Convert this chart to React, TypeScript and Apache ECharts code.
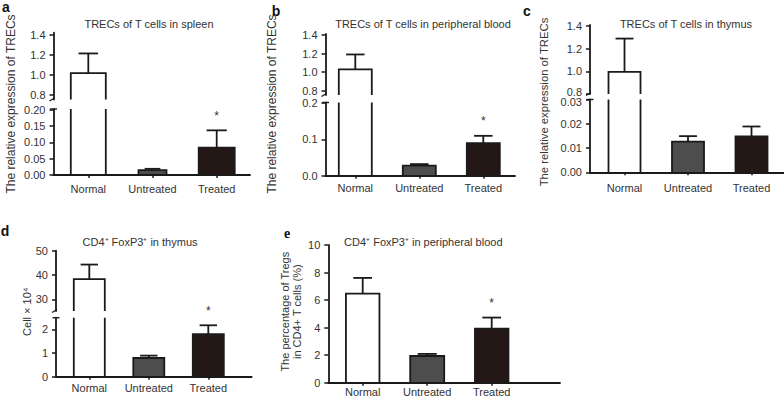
import React, { useEffect, useRef } from 'react';
import * as echarts from 'echarts';

// ---------- data ----------
const categories = ['Normal', 'Untreated', 'Treated'];

const spleenMean = [1.02, 0.0152, 0.084];
const spleenSem = [0.197, 0.0038, 0.053];
const spleenSig = ['', '', '*'];

const bloodMean = [1.03, 0.0276, 0.0895];
const bloodSem = [0.16, 0.0044, 0.0205];
const bloodSig = ['', '', '*'];

const thymusMean = [0.995, 0.0127, 0.0149];
const thymusSem = [0.295, 0.0023, 0.0041];
const thymusSig = ['', '', ''];

const cd4ThymusMean = [38.3, 0.79, 1.8];
const cd4ThymusSem = [6.0, 0.1, 0.37];
const cd4ThymusSig = ['', '', '*'];

const cd4BloodMean = [6.47, 1.94, 3.93];
const cd4BloodSem = [1.14, 0.15, 0.8];
const cd4BloodSig = ['', '', '*'];

const ticksTrecUpper = [0.8, 1.0, 1.2, 1.4];
const ticksSpleenLower = [0, 0.05, 0.1, 0.15, 0.2];
const ticksBloodLower = [0, 0.1, 0.2];
const ticksThymusLower = [0, 0.01, 0.02, 0.03];
const ticksCd4ThymusUpper = [30, 40, 50];
const ticksCd4ThymusLower = [0, 1, 2];
const ticksCd4Blood = [0, 2, 4, 6, 8, 10];

// ---------- styles ----------
const FONT = '"Liberation Sans", Arial, sans-serif';
const AXIS = '#1a1a1a';
const TEXT = '#333333';
const FILLS = ['#ffffff', '#4d4d4d', '#231815'];
const LW = 1.8;

type Segment = {
  top: number; bottom: number; min: number; max: number; ticks: number[]; dec: number;
  edgeShift?: 'up' | 'down';
};
type Panel = {
  letter: string; letterX: number; letterY: number; letterFont: string;
  title: string; titleX: number; titleY: number;
  yName: string; yNameX: number; yNameY: number; yNameSize: number;
  mean: number[]; sem: number[]; sig: string[];
  axisX: number; xRight: number; c0: number; sp: number; barW: number[]; xLabelMargin: number;
  segments: Segment[];
};

const panels: Panel[] = [
  {
    letter: 'a', letterX: 6, letterY: 7, letterFont: FONT,
    title: 'TRECs of T cells in spleen', titleX: 149, titleY: 24,
    yName: 'The relative expression of TRECs', yNameX: 11, yNameY: 104, yNameSize: 12,
    mean: spleenMean, sem: spleenSem, sig: spleenSig,
    axisX: 53.5, xRight: 250, c0: 88.3, sp: 64.2, barW: [35, 28, 36], xLabelMargin: 8,
    segments: [
      { top: 32.7, bottom: 99.5, min: 0.755, max: 1.425, ticks: ticksTrecUpper, dec: 1 },
      { top: 109, bottom: 175, min: 0, max: 0.2025, ticks: ticksSpleenLower, dec: 2 },
    ],
  },
  {
    letter: 'b', letterX: 276, letterY: 10.5, letterFont: FONT,
    title: 'TRECs of T cells in peripheral blood', titleX: 423, titleY: 24,
    yName: 'The relative expression of TRECs', yNameX: 272, yNameY: 104, yNameSize: 12,
    mean: bloodMean, sem: bloodSem, sig: bloodSig,
    axisX: 325.5, xRight: 515, c0: 355.3, sp: 64, barW: [33, 33, 33], xLabelMargin: 7,
    segments: [
      { top: 34, bottom: 95, min: 0.754, max: 1.41, ticks: ticksTrecUpper, dec: 1 },
      { top: 102.5, bottom: 175.7, min: 0, max: 0.202, ticks: ticksBloodLower, dec: 1 },
    ],
  },
  {
    letter: 'c', letterX: 527, letterY: 11, letterFont: FONT,
    title: 'TRECs of T cells in thymus', titleX: 686, titleY: 23.5,
    yName: 'The relative expression of TRECs', yNameX: 543.5, yNameY: 102, yNameSize: 11.3,
    mean: thymusMean, sem: thymusSem, sig: thymusSig,
    axisX: 590, xRight: 784, c0: 624.5, sp: 63.5, barW: [32, 32, 32], xLabelMargin: 10,
    segments: [
      { top: 25, bottom: 94, min: 0.8, max: 1.41, ticks: ticksTrecUpper, dec: 1, edgeShift: 'up' },
      { top: 99.5, bottom: 172.3, min: 0, max: 0.0302, ticks: ticksThymusLower, dec: 2, edgeShift: 'down' },
    ],
  },
  {
    letter: 'd', letterX: 5, letterY: 231, letterFont: FONT,
    title: 'CD4\u207A FoxP3\u207A in thymus', titleX: 140, titleY: 241.7,
    yName: 'Cell \u00D7 10\u2074', yNameX: 26.7, yNameY: 311.7, yNameSize: 11,
    mean: cd4ThymusMean, sem: cd4ThymusSem, sig: cd4ThymusSig,
    axisX: 56, xRight: 251.7, c0: 89.3, sp: 59.5, barW: [31, 31, 31], xLabelMargin: 6,
    segments: [
      { top: 250.7, bottom: 311, min: 25.2, max: 50, ticks: ticksCd4ThymusUpper, dec: 0 },
      { top: 317.7, bottom: 376.7, min: 0, max: 2.49, ticks: ticksCd4ThymusLower, dec: 0 },
    ],
  },
  {
    letter: 'e', letterX: 287, letterY: 233.5, letterFont: '"Liberation Serif", serif',
    title: 'CD4\u207A FoxP3\u207A in peripheral blood', titleX: 423.3, titleY: 241.7,
    yName: 'The percentage of Tregs\nin CD4+ T cells (%)', yNameX: 291, yNameY: 311.7, yNameSize: 11,
    mean: cd4BloodMean, sem: cd4BloodSem, sig: cd4BloodSig,
    axisX: 328.3, xRight: 560, c0: 362.7, sp: 64.5, barW: [33.5, 34, 33.5], xLabelMargin: 4,
    segments: [
      { top: 245, bottom: 382.7, min: 0, max: 10, ticks: ticksCd4Blood, dec: 0 },
    ],
  },
];

function makeRender(p: Panel, lo: number, hi: number) {
  return (params: any, api: any) => {
    const i = api.value(0);
    const v = api.value(1);
    const e = api.value(2);
    const children: any[] = [];
    if (v <= lo) return { type: 'group', children };
    const cx = api.coord([i, 0])[0];
    const hw = p.barW[i] / 2;
    const top = Math.min(v, hi);
    const yT = api.coord([i, top])[1];
    const yB = api.coord([i, lo])[1];
    children.push({
      type: 'rect',
      shape: { x: cx - hw, y: yT, width: hw * 2, height: yB - yT },
      style: { fill: FILLS[i], stroke: null },
    });
    if (v <= hi) {
      children.push({
        type: 'polyline',
        shape: { points: [[cx - hw, yB], [cx - hw, yT], [cx + hw, yT], [cx + hw, yB]] },
        style: { fill: null, stroke: AXIS, lineWidth: LW },
      });
      const eTop = v + e;
      const yE = api.coord([i, Math.min(eTop, hi)])[1];
      children.push({
        type: 'line',
        shape: { x1: cx, y1: yT, x2: cx, y2: yE },
        style: { stroke: AXIS, lineWidth: LW },
      });
      if (eTop <= hi) {
        const cap = p.barW[i] * 0.28;
        children.push({
          type: 'line',
          shape: { x1: cx - cap, y1: yE, x2: cx + cap, y2: yE },
          style: { stroke: AXIS, lineWidth: LW },
        });
        if (p.sig[i]) {
          children.push({
            type: 'text',
            x: cx,
            y: yE - 14.5,
            style: {
              text: p.sig[i], fill: TEXT, fontSize: 12, fontFamily: FONT,
              align: 'center', verticalAlign: 'middle',
            },
          });
        }
      }
    } else {
      children.push({
        type: 'line', shape: { x1: cx - hw, y1: yB, x2: cx - hw, y2: yT },
        style: { stroke: AXIS, lineWidth: LW },
      });
      children.push({
        type: 'line', shape: { x1: cx + hw, y1: yB, x2: cx + hw, y2: yT },
        style: { stroke: AXIS, lineWidth: LW },
      });
    }
    return { type: 'group', children };
  };
}

function buildOption() {
  const grid: any[] = [];
  const xAxis: any[] = [];
  const yAxis: any[] = [];
  const series: any[] = [];
  const graphic: any[] = [];

  panels.forEach((p) => {
    const n = p.segments.length;
    p.segments.forEach((s, k) => {
      const gi = grid.length;
      const isLast = k === n - 1;
      grid.push({ left: p.axisX, top: s.top, width: p.xRight - p.axisX, height: s.bottom - s.top });
      xAxis.push({
        type: 'value', gridIndex: gi, show: isLast, z: 10,
        min: (p.axisX - p.c0) / p.sp, max: (p.xRight - p.c0) / p.sp,
        axisLine: { show: true, onZero: false, lineStyle: { color: AXIS, width: LW } },
        axisTick: { show: true, length: 3, customValues: [0, 1, 2], lineStyle: { color: AXIS, width: 1.5 } },
        axisLabel: {
          customValues: [0, 1, 2],
          formatter: (v: number) => categories[Math.round(v)],
          fontSize: 11, color: TEXT, fontFamily: FONT, margin: p.xLabelMargin,
        },
        splitLine: { show: false },
      });
      const edgeVal = s.edgeShift === 'up' ? s.ticks[0] : s.edgeShift === 'down' ? s.ticks[s.ticks.length - 1] : null;
      yAxis.push({
        type: 'value', gridIndex: gi, z: 10,
        min: s.min, max: s.max,
        axisLine: { show: true, onZero: false, lineStyle: { color: AXIS, width: LW } },
        axisTick: { show: true, length: 4, customValues: s.ticks, lineStyle: { color: AXIS, width: 1.5 } },
        axisLabel: {
          customValues: s.ticks,
          formatter: (v: number) => {
            const t = v.toFixed(s.dec);
            if (edgeVal !== null && Math.abs(v - edgeVal) < 1e-9) {
              return s.edgeShift === 'up' ? `{up|${t}}` : `{dn|${t}}`;
            }
            return t;
          },
          rich: {
            up: { fontSize: 11, color: TEXT, fontFamily: FONT, padding: [0, 0, 5, 0] },
            dn: { fontSize: 11, color: TEXT, fontFamily: FONT, padding: [5, 0, 0, 0] },
          },
          fontSize: 11, color: TEXT, fontFamily: FONT, margin: 8,
        },
        splitLine: { show: false },
      });
      series.push({
        type: 'custom', xAxisIndex: gi, yAxisIndex: gi, z: 5, silent: true,
        renderItem: makeRender(p, s.min, s.max),
        data: p.mean.map((m, i) => [i, m, p.sem[i]]),
      });
      // axis break marks
      if (n > 1 && !isLast) {
        graphic.push({
          type: 'line', z: 20,
          shape: { x1: p.axisX - 4, y1: s.bottom + 1.5, x2: p.axisX + 1, y2: s.bottom - 1.5 },
          style: { stroke: AXIS, lineWidth: 1.4 },
        });
      }
      if (n > 1 && k > 0) {
        graphic.push({
          type: 'line', z: 20,
          shape: { x1: p.axisX - 3.5, y1: s.top, x2: p.axisX + 3.5, y2: s.top },
          style: { stroke: AXIS, lineWidth: 1.4 },
        });
      }
    });

    graphic.push({
      type: 'text', x: p.letterX, y: p.letterY,
      style: {
        text: p.letter, fill: '#111', fontSize: 14, fontWeight: 'bold', fontFamily: p.letterFont,
        align: 'center', verticalAlign: 'middle',
      },
    });
    graphic.push({
      type: 'text', x: p.titleX, y: p.titleY,
      style: {
        text: p.title, fill: TEXT, fontSize: 11, fontFamily: FONT,
        align: 'center', verticalAlign: 'middle',
      },
    });
    graphic.push({
      type: 'text', x: p.yNameX, y: p.yNameY, rotation: Math.PI / 2,
      style: {
        text: p.yName, fill: TEXT, fontSize: p.yNameSize, fontFamily: FONT, lineHeight: 12,
        align: 'center', verticalAlign: 'middle',
      },
    });
  });

  return { animation: false, backgroundColor: '#ffffff', grid, xAxis, yAxis, series, graphic };
}

export default function App() {
  const ref = useRef<HTMLDivElement>(null);
  useEffect(() => {
    document.body.style.margin = '0';
    const chart = echarts.init(ref.current!, null, { renderer: 'svg', width: 784, height: 401 });
    chart.setOption(buildOption() as any);
    return () => chart.dispose();
  }, []);
  return <div ref={ref} style={{ position: 'absolute', left: 0, top: 0, width: 784, height: 401 }} />;
}
